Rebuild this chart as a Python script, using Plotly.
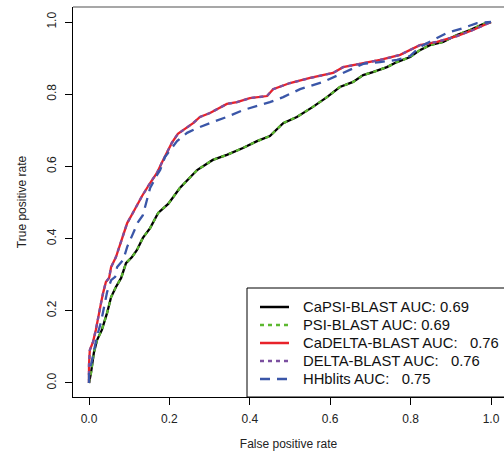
import plotly.graph_objects as go

# ---- data ----
capsi_fpr = [0, 0.005, 0.012, 0.020, 0.032, 0.045, 0.055, 0.067, 0.080, 0.087,
             0.092, 0.107, 0.119, 0.134, 0.152, 0.172, 0.197, 0.226, 0.251, 0.269,
             0.308, 0.343, 0.383, 0.418, 0.450, 0.483, 0.517, 0.557, 0.592, 0.624,
             0.657, 0.682, 0.706, 0.741, 0.766, 0.799, 0.823, 0.848, 0.881, 0.915,
             0.948, 0.980, 1.0]
capsi_tpr = [0, 0.028, 0.083, 0.119, 0.147, 0.194, 0.238, 0.266, 0.291, 0.313,
             0.332, 0.349, 0.368, 0.402, 0.429, 0.471, 0.496, 0.540, 0.568, 0.590,
             0.618, 0.632, 0.651, 0.670, 0.684, 0.720, 0.737, 0.765, 0.792, 0.820,
             0.834, 0.853, 0.861, 0.875, 0.889, 0.903, 0.922, 0.936, 0.945, 0.964,
             0.978, 0.994, 1.0]
psi_fpr = list(capsi_fpr)
psi_tpr = list(capsi_tpr)

cadelta_fpr = [0, 0, 0.002, 0.010, 0.017, 0.025, 0.030, 0.035, 0.042, 0.050,
               0.055, 0.067, 0.075, 0.082, 0.095, 0.109, 0.119, 0.132, 0.152, 0.169,
               0.182, 0.194, 0.206, 0.221, 0.244, 0.259, 0.276, 0.301, 0.343, 0.368,
               0.400, 0.443, 0.458, 0.500, 0.550, 0.607, 0.632, 0.682, 0.724, 0.774,
               0.823, 0.866, 0.915, 0.955, 0.998, 1.0]
cadelta_tpr = [0, 0.050, 0.091, 0.114, 0.147, 0.188, 0.222, 0.249, 0.280, 0.291,
               0.321, 0.349, 0.377, 0.404, 0.443, 0.471, 0.493, 0.518, 0.554, 0.582,
               0.612, 0.640, 0.665, 0.690, 0.709, 0.720, 0.737, 0.748, 0.773, 0.778,
               0.789, 0.795, 0.814, 0.831, 0.845, 0.859, 0.875, 0.886, 0.895, 0.909,
               0.936, 0.945, 0.961, 0.978, 0.997, 1.0]
delta_fpr = list(cadelta_fpr)
delta_tpr = list(cadelta_tpr)

hhblits_fpr = [0, 0, 0.005, 0.012, 0.020, 0.030, 0.037, 0.045, 0.055, 0.065,
               0.070, 0.085, 0.095, 0.102, 0.112, 0.122, 0.134, 0.142, 0.152, 0.169,
               0.177, 0.189, 0.201, 0.219, 0.244, 0.269, 0.301, 0.343, 0.383, 0.418,
               0.450, 0.483, 0.525, 0.582, 0.632, 0.682, 0.724, 0.766, 0.799, 0.823,
               0.856, 0.891, 0.930, 0.965, 1.0]
hhblits_tpr = [0, 0.030, 0.050, 0.091, 0.130, 0.169, 0.211, 0.252, 0.285, 0.294,
               0.321, 0.341, 0.377, 0.396, 0.424, 0.446, 0.465, 0.499, 0.540, 0.576,
               0.590, 0.626, 0.645, 0.670, 0.693, 0.706, 0.720, 0.737, 0.756, 0.767,
               0.778, 0.792, 0.814, 0.834, 0.859, 0.884, 0.889, 0.895, 0.906, 0.931,
               0.950, 0.970, 0.983, 0.997, 1.0]

series_names = ["CaPSI-BLAST AUC: 0.69", "PSI-BLAST AUC: 0.69",
                "CaDELTA-BLAST AUC: \u00a0\u00a00.76",
                "DELTA-BLAST AUC: \u00a0\u00a00.76",
                "HHblits AUC: \u00a0\u00a00.75"]
tick_vals = [0, 0.2, 0.4, 0.6, 0.8, 1.0]
tick_text = ["0.0", "0.2", "0.4", "0.6", "0.8", "1.0"]

# ---- styles ----
colors = ["#000000", "#5DB830", "#E8222A", "#7B4FA0", "#3A56A8"]
dashes = ["solid", "4px,4px", "solid", "4px,4px", "10px,7px"]
FONT = "Liberation Sans, Arial, Helvetica, sans-serif"

xs = [capsi_fpr, psi_fpr, cadelta_fpr, delta_fpr, hhblits_fpr]
ys = [capsi_tpr, psi_tpr, cadelta_tpr, delta_tpr, hhblits_tpr]

fig = go.Figure()
for name, x, y, c, d in zip(series_names, xs, ys, colors, dashes):
    fig.add_trace(go.Scatter(x=x, y=y, mode="lines", name=name,
                             line=dict(color=c, width=2.3, dash=d),
                             showlegend=False, hoverinfo="skip"))

# plot area in pixels: left 73, right 504, top 7, bottom 397
L, T, W, H = 73, 7, 431, 390
def px(xp):
    return (xp - L) / W
def py(yp):
    return (T + H - yp) / H

shapes = [
    dict(type="rect", xref="paper", yref="paper", x0=px(247), x1=1.05,
         y0=py(397), y1=py(288), line=dict(color="black", width=1),
         fillcolor="white", layer="above"),
    dict(type="line", xref="paper", yref="paper", x0=0, x1=1, y0=1, y1=1,
         line=dict(color="#8a8a8a", width=1.5), layer="above"),
]
annotations = []
row_y = [307, 325, 343, 361, 379]
for name, c, d, ry in zip(series_names, colors, dashes, row_y):
    shapes.append(dict(type="line", xref="paper", yref="paper",
                       x0=px(260), x1=px(289), y0=py(ry), y1=py(ry),
                       line=dict(color=c, width=2.5, dash=d), layer="above"))
    annotations.append(dict(xref="paper", yref="paper", x=px(301), y=py(ry),
                            text=name, showarrow=False, xanchor="left",
                            yanchor="middle",
                            font=dict(family=FONT, size=14.8, color="#111")))

axis_common = dict(showgrid=False, zeroline=False, showline=True,
                   linecolor="black", linewidth=1, ticks="outside", ticklen=7,
                   tickwidth=1, tickcolor="black", tickvals=tick_vals,
                   ticktext=tick_text,
                   tickfont=dict(family=FONT, size=12, color="#222"))

fig.update_layout(
    width=504, height=451,
    margin=dict(l=L, r=504 - L - W, t=T, b=451 - T - H),
    paper_bgcolor="white", plot_bgcolor="white",
    font=dict(family=FONT, size=12, color="#222"),
    xaxis=dict(range=[-0.0398, 1.0323], mirror=False,
               title=dict(text="False positive rate", standoff=14,
                          font=dict(family=FONT, size=12, color="#222")),
               ticklabelstandoff=4, **axis_common),
    yaxis=dict(range=[-0.0388, 1.0416], mirror=False, tickangle=-90,
               title=dict(text="True positive rate", standoff=16,
                          font=dict(family=FONT, size=12, color="#222")),
               ticklabelstandoff=4, **axis_common),
    shapes=shapes, annotations=annotations,
)

fig.write_html("out.html", config={"displayModeBar": False},
               post_script="document.body.style.margin='0px';"
                           "document.body.style.padding='0px';")
